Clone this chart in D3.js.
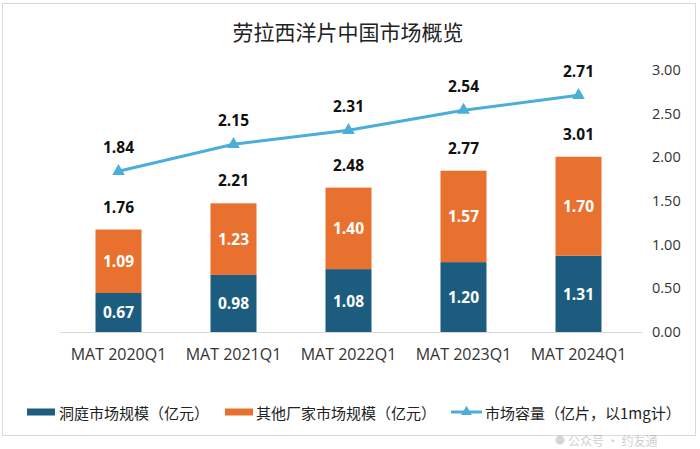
<!DOCTYPE html>
<html>
<head>
<meta charset="utf-8">
<script src="https://cdn.jsdelivr.net/npm/d3@7"></script>
<style>
  html, body { margin: 0; padding: 0; background: #fff; }
  svg { display: block; }
</style>
</head>
<body>
<svg id="chart" width="700" height="449"></svg>
<script>
const categories = ["MAT 2020Q1", "MAT 2021Q1", "MAT 2022Q1", "MAT 2023Q1", "MAT 2024Q1"];
const dongting = [0.67, 0.98, 1.08, 1.20, 1.31];
const others = [1.09, 1.23, 1.40, 1.57, 1.70];
const totals = [1.76, 2.21, 2.48, 2.77, 3.01];
const capacity = [1.84, 2.15, 2.31, 2.54, 2.71];
const rightTicks = [0, 0.5, 1.0, 1.5, 2.0, 2.5, 3.0];
const seriesNames = ["洞庭市场规模（亿元）", "其他厂家市场规模（亿元）", "市场容量（亿片，以1mg计）"];
const title = "劳拉西洋片中国市场概览";

const colors = { dark: "#1C5D7F", orange: "#E9712F", line: "#4BADDA" };
const cjk = "'Noto Sans CJK SC', 'Noto Sans', sans-serif";
const num = "'Open Sans', 'Noto Sans', sans-serif";

const svg = d3.select("#chart");

// frame
svg.append("rect").attr("x", 2.5).attr("y", 3.5).attr("width", 693).attr("height", 432)
  .attr("fill", "#fff").attr("stroke", "#d9d9d9").attr("stroke-width", 1);

// title
svg.append("text").attr("x", 348).attr("y", 34).attr("text-anchor", "middle")
  .attr("dominant-baseline", "middle").attr("font-family", cjk).attr("font-size", 21)
  .attr("fill", "#222").text(title);

const x = d3.scaleBand().domain(categories).range([61, 636]).paddingInner(0.6).paddingOuter(0.3);
const yBar = d3.scaleLinear().domain([0, 4.5]).range([332, 70]);
const yLine = d3.scaleLinear().domain([0, 3]).range([332, 70]);

// baseline
svg.append("line").attr("x1", 60).attr("x2", 642).attr("y1", 332.5).attr("y2", 332.5)
  .attr("stroke", "#d9d9d9").attr("stroke-width", 1);

// right axis
const rAxis = svg.append("g").attr("transform", "translate(652,0)")
  .call(d3.axisRight(yLine).tickValues(rightTicks).tickFormat(d3.format(".2f")).tickSize(0).tickPadding(0));
rAxis.select(".domain").remove();
rAxis.selectAll("text").attr("font-family", num).attr("font-size", 14.5).attr("fill", "#333")
  .attr("text-anchor", "start");

// x axis
const xAxis = svg.append("g").attr("transform", "translate(0,349)")
  .call(d3.axisBottom(x).tickSize(0).tickPadding(0));
xAxis.select(".domain").remove();
xAxis.selectAll("text").attr("font-family", num).attr("font-size", 16).attr("fill", "#333");

// bars
const bw = x.bandwidth();
const g = svg.append("g");
categories.forEach((c, i) => {
  const x0 = x(c);
  const cx = x0 + bw / 2;
  const d = dongting[i], o = others[i];
  g.append("rect").attr("x", x0).attr("width", bw)
    .attr("y", yBar(d)).attr("height", yBar(0) - yBar(d)).attr("fill", colors.dark);
  g.append("rect").attr("x", x0).attr("width", bw)
    .attr("y", yBar(d + o)).attr("height", yBar(d) - yBar(d + o)).attr("fill", colors.orange);
  g.append("text").attr("x", cx).attr("y", (yBar(0) + yBar(d)) / 2)
    .attr("text-anchor", "middle").attr("dominant-baseline", "central")
    .attr("font-family", num).attr("font-weight", "bold").attr("font-size", 15.5).attr("fill", "#fff")
    .text(d.toFixed(2));
  g.append("text").attr("x", cx).attr("y", (yBar(d) + yBar(d + o)) / 2)
    .attr("text-anchor", "middle").attr("dominant-baseline", "central")
    .attr("font-family", num).attr("font-weight", "bold").attr("font-size", 15.5).attr("fill", "#fff")
    .text(o.toFixed(2));
  g.append("text").attr("x", cx).attr("y", yBar(totals[i]) - 23)
    .attr("text-anchor", "middle").attr("dominant-baseline", "central")
    .attr("font-family", num).attr("font-weight", "bold").attr("font-size", 15.5).attr("fill", "#111")
    .text(totals[i].toFixed(2));
});

// line
const line = d3.line().x((d, i) => x(categories[i]) + bw / 2).y(d => yLine(d));
svg.append("path").datum(capacity).attr("d", line).attr("fill", "none")
  .attr("stroke", colors.line).attr("stroke-width", 3);
const tri = d3.symbol().type(d3.symbolTriangle).size(70);
capacity.forEach((v, i) => {
  const cx = x(categories[i]) + bw / 2;
  svg.append("path").attr("d", tri()).attr("transform", `translate(${cx},${yLine(v)})`)
    .attr("fill", colors.line);
  svg.append("text").attr("x", cx).attr("y", yLine(v) - 24)
    .attr("text-anchor", "middle").attr("dominant-baseline", "central")
    .attr("font-family", num).attr("font-weight", "bold").attr("font-size", 15.5).attr("fill", "#111")
    .text(v.toFixed(2));
});

// legend
const ly = 412;
const leg = svg.append("g");
leg.append("rect").attr("x", 27).attr("y", ly - 3.5).attr("width", 28).attr("height", 7).attr("fill", colors.dark);
leg.append("text").attr("x", 59).attr("y", ly).attr("dominant-baseline", "central")
  .attr("font-family", cjk).attr("font-size", 15).attr("fill", "#222").text(seriesNames[0]);
leg.append("rect").attr("x", 225).attr("y", ly - 3.5).attr("width", 28).attr("height", 7).attr("fill", colors.orange);
leg.append("text").attr("x", 256).attr("y", ly).attr("dominant-baseline", "central")
  .attr("font-family", cjk).attr("font-size", 15).attr("fill", "#222").text(seriesNames[1]);
leg.append("line").attr("x1", 451).attr("x2", 482).attr("y1", ly).attr("y2", ly)
  .attr("stroke", colors.line).attr("stroke-width", 3);
leg.append("path").attr("d", d3.symbol().type(d3.symbolTriangle).size(50)())
  .attr("transform", `translate(466.5,${ly})`).attr("fill", colors.line);
leg.append("text").attr("x", 485).attr("y", ly).attr("dominant-baseline", "central")
  .attr("font-family", cjk).attr("font-size", 15).attr("fill", "#222").text(seriesNames[2]);

// watermark
const wm = svg.append("g").attr("opacity", 0.35);
wm.append("circle").attr("cx", 560).attr("cy", 440).attr("r", 4.5).attr("fill", "#888");
wm.append("text").attr("x", 568).attr("y", 440).attr("dominant-baseline", "central")
  .attr("font-family", cjk).attr("font-size", 12).attr("fill", "#777").text("公众号 · 约友通");
</script>
</body>
</html>
